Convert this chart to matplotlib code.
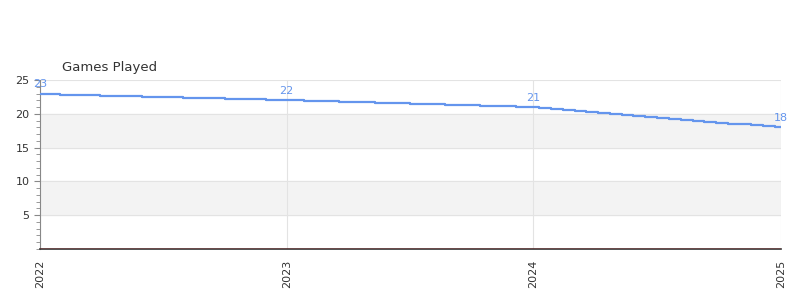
import pandas as pd
import matplotlib.pyplot as plt
import matplotlib.dates as mdates
from matplotlib.ticker import MultipleLocator

dates = ["2022-01-01", "2022-03-01", "2022-05-01", "2022-07-01", "2022-09-01", "2022-11-01",
         "2023-01-01", "2023-02-22", "2023-04-15", "2023-06-06", "2023-07-28", "2023-09-18", "2023-11-09",
         "2024-01-01", "2024-01-18", "2024-02-05", "2024-02-22", "2024-03-11", "2024-03-28", "2024-04-15",
         "2024-05-02", "2024-05-19", "2024-06-06", "2024-06-23", "2024-07-11", "2024-07-28", "2024-08-15",
         "2024-09-01", "2024-09-18", "2024-10-06", "2024-10-23", "2024-11-10", "2024-11-27", "2024-12-15",
         "2025-01-01"]
games = [23, 22.83, 22.67, 22.5, 22.33, 22.17,
         22, 21.86, 21.71, 21.57, 21.43, 21.29, 21.14,
         21, 20.86, 20.71, 20.57, 20.43, 20.29, 20.14,
         20, 19.86, 19.71, 19.57, 19.43, 19.29, 19.14,
         19, 18.86, 18.71, 18.57, 18.43, 18.29, 18.14,
         18]
# подписи на границах лет
label_dates = ["2022-01-01", "2023-01-01", "2024-01-01", "2025-01-01"]
label_values = [23, 22, 21, 18]
year_ticks = ["2022-01-01", "2023-01-01", "2024-01-01", "2025-01-01"]
year_labels = ["2022", "2023", "2024", "2025"]

x = pd.to_datetime(dates)
line_color = "#6495ed"

fig = plt.figure(figsize=(8, 3), dpi=100)
ax = fig.add_axes([0.05, 0.17, 0.926, 0.563])

# чередующиеся полосы
for lo in (5, 15):
    ax.axhspan(lo, lo + 5, color="#f3f3f3", zorder=0)
for v in (5, 10, 15, 20, 25):
    ax.axhline(v, color="#e3e3e3", lw=0.8, zorder=1)
for t in pd.to_datetime(year_ticks):
    ax.axvline(t, color="#e3e3e3", lw=0.8, zorder=1)

ax.step(x, games, where="mid", color=line_color, lw=1.6, zorder=3)
ax.axhline(0, color="#cc2222", lw=1.0, zorder=4)

for d, v in zip(pd.to_datetime(label_dates), label_values):
    ax.annotate(str(v), (d, v), xytext=(0, 3), textcoords="offset points",
                ha="center", va="bottom", color=line_color, fontsize=8, zorder=5)

ax.set_xlim(pd.Timestamp("2022-01-01"), pd.Timestamp("2025-01-01"))
ax.set_ylim(0, 25)
ax.set_yticks([5, 10, 15, 20, 25])
ax.yaxis.set_minor_locator(MultipleLocator(1))
ax.set_xticks(pd.to_datetime(year_ticks))
ax.set_xticklabels(year_labels, rotation=90)
ax.tick_params(axis="both", labelsize=8, colors="#333333", length=4, color="#888888")
ax.tick_params(axis="y", which="minor", length=3, color="#888888")
ax.tick_params(axis="x", length=0, pad=8)

ax.spines["top"].set_visible(False)
ax.spines["right"].set_visible(False)
ax.spines["left"].set_color("#888888")
ax.spines["bottom"].set_color("#333333")
ax.spines["bottom"].set_linewidth(1.2)

fig.text(62 / 800, 1 - 67 / 300, "Games Played", fontsize=9.5, color="#333333", va="center")

fig.savefig("out.png", dpi=100)
